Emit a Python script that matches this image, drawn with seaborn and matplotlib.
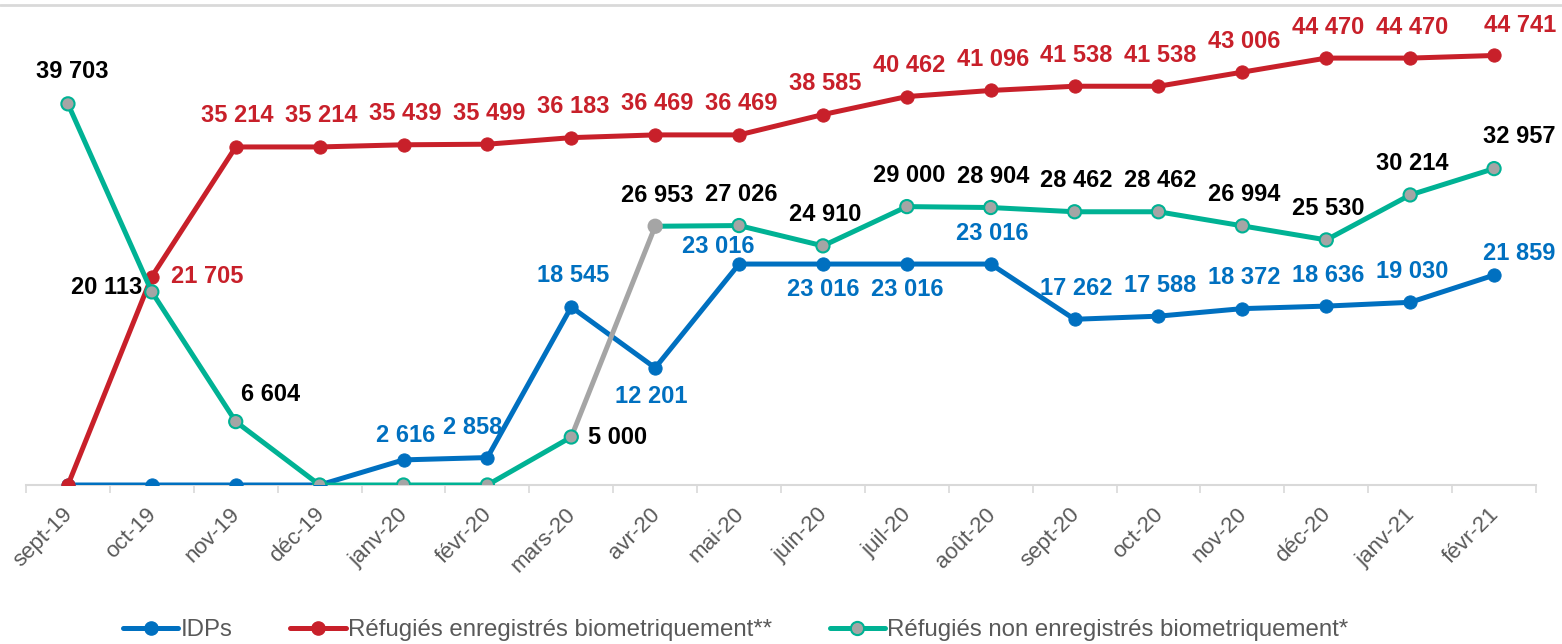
import matplotlib
matplotlib.use("Agg")
import matplotlib.pyplot as plt
from matplotlib.lines import Line2D
import seaborn as sns
import pandas as pd

# Data
months = ["sept-19", "oct-19", "nov-19", "déc-19", "janv-20", "févr-20",
          "mars-20", "avr-20", "mai-20", "juin-20", "juil-20", "août-20",
          "sept-20", "oct-20", "nov-20", "déc-20", "janv-21", "févr-21"]
idps = [0, 0, 0, 0, 2616, 2858, 18545, 12201, 23016, 23016, 23016, 23016,
        17262, 17588, 18372, 18636, 19030, 21859]
refugies_bio = [0, 21705, 35214, 35214, 35439, 35499, 36183, 36469, 36469,
                38585, 40462, 41096, 41538, 41538, 43006, 44470, 44470, 44741]
refugies_non_bio = [39703, 20113, 6604, 0, 0, 0, 5000, 26953, 27026, 24910,
                    29000, 28904, 28462, 28462, 26994, 25530, 30214, 32957]

series_names = ["IDPs", "Réfugiés enregistrés biometriquement**",
                "Réfugiés non enregistrés biometriquement*"]

# label offsets in pixels (dx, dy) - default is above the point
idps_off = {4: (2, 24), 5: (-15, 30), 7: (-4, -29), 8: (-21, 18),
            9: (0, -25), 10: (0, -25), 17: (25, 22)}
bio_off = {1: (55, 0), 17: (26, 30)}
non_bio_off = {0: (4, 32), 1: (-45, 4), 2: (35, 27), 6: (46, 0), 17: (25, 32)}

BLUE = "#0070C0"
RED = "#C8202A"
TEAL = "#00B294"
GRAY = "#A5A5A5"

df = pd.DataFrame({"mois": months, "idps": idps, "bio": refugies_bio,
                   "nonbio": refugies_non_bio})
df["pos"] = range(len(months))

sns.set_style("white")
plt.rcParams["font.family"] = ["Liberation Sans", "DejaVu Sans"]

fig = plt.figure(figsize=(15.62, 6.44), dpi=100)
ax = fig.add_axes([26 / 1562, 1 - 485 / 644, 1510 / 1562, 480 / 644])

lw = 3.6
ms = 9.5
sns.lineplot(data=df, x="pos", y="idps", color=BLUE, lw=lw, marker="o",
             markersize=ms, markeredgecolor=BLUE, ax=ax, zorder=3)
sns.lineplot(data=df, x="pos", y="bio", color=RED, lw=lw, marker="o",
             markersize=ms, markeredgecolor=RED, ax=ax, zorder=4)
# teal line in two parts, the mars-20 -> avr-20 step is gray
for part in (df.iloc[:7], df.iloc[7:]):
    sns.lineplot(data=part, x="pos", y="nonbio", color=TEAL, lw=lw, ax=ax, zorder=5)
seg = df.iloc[6:8]
sns.lineplot(data=seg, x="pos", y="nonbio", color=GRAY, lw=lw, ax=ax, zorder=5)
edge = [TEAL] * len(months)
edge[7] = GRAY
ax.scatter(df["pos"], df["nonbio"], s=ms ** 2, c=GRAY, edgecolors=edge,
           linewidths=1.5, zorder=7)


def fmt(v):
    return f"{v:,}".replace(",", " ")


def add_labels(values, color, offsets):
    for i, v in enumerate(values):
        if v == 0:
            continue
        dx, dy = offsets.get(i, (2, 31))
        ax.annotate(fmt(v), (i, v), xytext=(dx, dy), textcoords="offset pixels",
                    ha="center", va="center", fontsize=17, fontweight="bold",
                    color=color, zorder=10)


add_labels(idps, BLUE, idps_off)
add_labels(refugies_bio, RED, bio_off)
add_labels(refugies_non_bio, "black", non_bio_off)

ax.set_xlim(-0.5, len(months) - 0.5)
ax.set_ylim(0, 50000)
ax.set_xlabel("")
ax.set_ylabel("")
ax.set_yticks([])
ax.set_xticks(range(len(months)))
ax.set_xticklabels([])
ax.tick_params(axis="x", which="major", length=0)
# month labels, rotated, a bit left of each category like Excel does
for i, m in enumerate(months):
    ax.annotate(m, (i, 0), xycoords=ax.get_xaxis_transform(), xytext=(-6, -19),
                textcoords="offset pixels", rotation=45, ha="right", va="top",
                rotation_mode="anchor", fontsize=16, color="#595959",
                annotation_clip=False)
ax.set_xticks([i - 0.5 for i in range(len(months) + 1)], minor=True)
ax.tick_params(axis="x", which="minor", length=6, width=1.2, color="#D9D9D9",
               direction="out", bottom=True)
for s in ["top", "left", "right"]:
    ax.spines[s].set_visible(False)
ax.spines["bottom"].set_color("#D9D9D9")
ax.spines["bottom"].set_linewidth(1.5)
ax.set_facecolor("white")

# gray frame line along the top of the picture
fig.add_artist(Line2D([0, 1], [1 - 5 / 644, 1 - 5 / 644], color="#D9D9D9", lw=2))

handles = [
    Line2D([], [], color=BLUE, lw=lw, marker="o", ms=ms, mec=BLUE),
    Line2D([], [], color=RED, lw=lw, marker="o", ms=ms, mec=RED),
    Line2D([], [], color=TEAL, lw=lw, marker="o", ms=ms, mfc=GRAY, mec=TEAL, mew=1.5),
]
leg = fig.legend(handles, series_names, loc="center", bbox_to_anchor=(0.471, 1 - 630 / 644),
                 ncol=3, frameon=False, fontsize=17.3, handlelength=2.3,
                 handletextpad=0.1, columnspacing=2.4)
for t in leg.get_texts():
    t.set_color("#595959")

fig.savefig("out.png", dpi=100, facecolor="white")
